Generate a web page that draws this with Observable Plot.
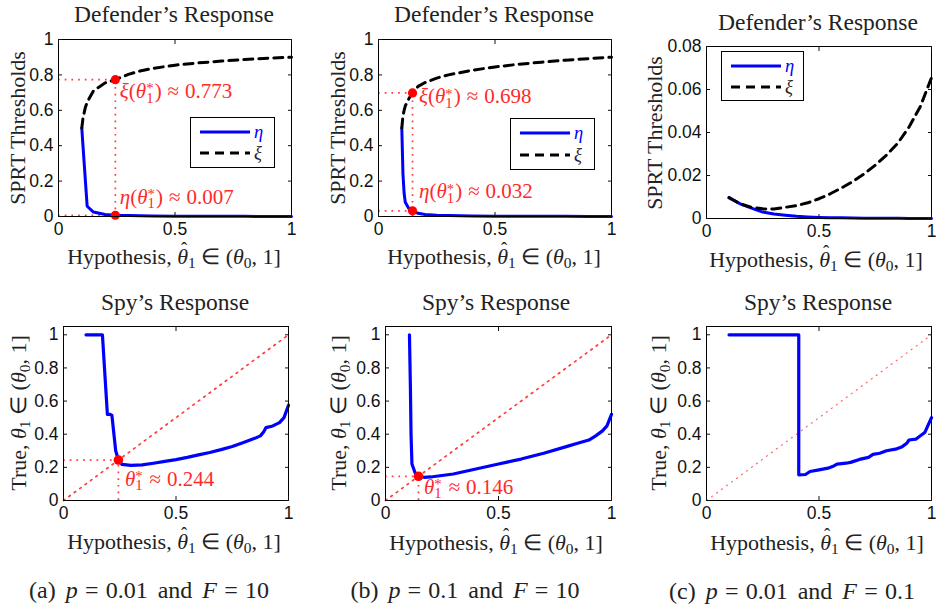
<!DOCTYPE html>
<html><head><meta charset="utf-8">
<script src="https://cdn.jsdelivr.net/npm/d3@7"></script>
<script src="https://cdn.jsdelivr.net/npm/@observablehq/plot@0.6"></script>
<style>
body{margin:0;background:#fff;}
#fig{position:relative;width:939px;height:604px;overflow:hidden;font-family:"Liberation Serif","Times New Roman",serif;color:#222;}
.abs{position:absolute;white-space:nowrap;line-height:1;}
.ctr{transform:translate(-50%,-50%);}
.rot{transform:translate(-50%,-50%) rotate(-90deg);}
.vc{transform:translateY(-50%);}
sub{font-size:0.7em;line-height:0;vertical-align:-0.25em;}
.ts{position:relative;display:inline-block;font-size:0.7em;line-height:1;vertical-align:-0.3em;}
.ts::after{content:"*";position:absolute;left:0;top:-0.62em;}
.ts1{margin-right:0.08em;}
.hatw{position:relative;display:inline-block;}
.hatw::after{content:"ˆ";position:absolute;left:0.2em;top:-0.3em;font-style:normal;font-size:0.85em;}
.title{font-size:23.5px;}
.lab{font-size:22px;}
.lab .op{margin:0 0.25em;}
.ann{font-size:21px;color:#ff2a2a;}
.ann .op{margin:0 0.28em;}
.cap{font-size:24px;word-spacing:4px;}
.cap .op{margin:0 0.3em;}
.leg{position:absolute;border:1.2px solid #000;background:#fff;box-sizing:border-box;}
.leg .row{position:absolute;left:9px;height:18px;display:flex;align-items:center;font-size:18.5px;line-height:18px;}
.leg svg{display:block;margin-right:4px;}
</style></head><body><div id="fig"></div>
<script>
// ---------- tick values ----------
const xTicks = [0, 0.5, 1];
const yTicksUnit = [0, 0.2, 0.4, 0.6, 0.8, 1];
const yTicksSmall = [0, 0.02, 0.04, 0.06, 0.08];

// ---------- Defender's response (top row) ----------
// (a) p = 0.01, F = 10
const hypA = [0.1, 0.105, 0.115, 0.123, 0.15, 0.2, 0.244, 0.3, 0.35, 0.4, 0.5, 0.6, 0.7, 0.8, 0.9, 1];
const etaA = [0.5, 0.4, 0.21, 0.058, 0.025, 0.011, 0.007, 0.005, 0.004, 0.003, 0.002, 0.0015, 0.001, 0.0008, 0.0005, 0.0003];
const xiA  = [0.5, 0.555, 0.615, 0.646, 0.71, 0.755, 0.773, 0.803, 0.822, 0.836, 0.855, 0.868, 0.878, 0.887, 0.894, 0.9];
// (b) p = 0.1, F = 10
const hypB = [0.1, 0.105, 0.11, 0.115, 0.13, 0.146, 0.17, 0.2, 0.25, 0.3, 0.4, 0.5, 0.6, 0.7, 0.8, 0.9, 1];
const etaB = [0.5, 0.24, 0.13, 0.08, 0.045, 0.032, 0.018, 0.011, 0.007, 0.005, 0.003, 0.002, 0.0015, 0.001, 0.0008, 0.0005, 0.0003];
const xiB  = [0.5, 0.57, 0.6, 0.625, 0.665, 0.698, 0.735, 0.757, 0.782, 0.8, 0.826, 0.845, 0.86, 0.872, 0.883, 0.892, 0.9];
// (c) p = 0.01, F = 0.1
const hypC = [0.1, 0.15, 0.2, 0.25, 0.3, 0.35, 0.4, 0.45, 0.5, 0.55, 0.6, 0.65, 0.7, 0.75, 0.8, 0.85, 0.9, 0.95, 1];
const etaC = [0.0097, 0.0068, 0.0048, 0.003, 0.0021, 0.0015, 0.001, 0.0007, 0.0005, 0.0004, 0.0003, 0.0002, 0.00015, 0.0001, 0.00008, 0.00006, 0.00004, 0.00003, 0.00002];
const xiC  = [0.0097, 0.0068, 0.0052, 0.0045, 0.0044, 0.0052, 0.006, 0.0073, 0.0092, 0.0115, 0.0142, 0.0172, 0.0207, 0.0248, 0.0295, 0.035, 0.0425, 0.052, 0.0655];

// optimal points for (a) and (b)
const thetaStar = [0.244, 0.146];
const xiStar    = [0.773, 0.698];
const etaStar   = [0.007, 0.032];

// ---------- Spy's response (bottom row) ----------
const spyHypA  = [0.1, 0.173, 0.195, 0.205, 0.215, 0.232, 0.244, 0.26, 0.3, 0.35, 0.4, 0.45, 0.5, 0.55, 0.6, 0.65, 0.7, 0.75, 0.8, 0.85, 0.875, 0.89, 0.9, 0.93, 0.96, 0.98, 1];
const spyTrueA = [1, 1, 0.52, 0.52, 0.515, 0.3, 0.244, 0.218, 0.212, 0.215, 0.225, 0.236, 0.247, 0.26, 0.275, 0.29, 0.307, 0.326, 0.35, 0.375, 0.39, 0.415, 0.44, 0.45, 0.47, 0.5, 0.575];
const spyHypB  = [0.106, 0.11, 0.113, 0.117, 0.13, 0.146, 0.17, 0.2, 0.3, 0.4, 0.5, 0.6, 0.7, 0.8, 0.85, 0.9, 0.93, 0.96, 0.98, 1];
const spyTrueB = [1, 0.7, 0.4, 0.22, 0.17, 0.146, 0.14, 0.142, 0.16, 0.19, 0.22, 0.25, 0.285, 0.325, 0.345, 0.365, 0.39, 0.42, 0.45, 0.52];
const spyHypC  = [0.1, 0.41, 0.41, 0.44, 0.46, 0.5, 0.54, 0.56, 0.58, 0.62, 0.64, 0.68, 0.72, 0.74, 0.77, 0.8, 0.84, 0.87, 0.89, 0.9, 0.93, 0.97, 1];
const spyTrueC = [1, 1, 0.155, 0.157, 0.175, 0.185, 0.195, 0.205, 0.22, 0.225, 0.23, 0.248, 0.26, 0.278, 0.285, 0.3, 0.31, 0.325, 0.345, 0.365, 0.37, 0.41, 0.5];
const diagLine = [0, 1];

// ---------- helpers ----------
const fig = document.getElementById("fig");
const BLUE = "#0000ff", RED = "#ff1a1a";
const redDotted = {stroke: RED, strokeWidth: 1.7, strokeDasharray: "1.7,5", strokeOpacity: 0.85};

function axes(yTicks) {
  const fmt = d => String(d);
  return [
    Plot.frame({stroke: "black", strokeWidth: 1}),
    Plot.axisX(xTicks, {anchor: "bottom", tickSize: -4, tickPadding: 10, tickFormat: fmt, label: null}),
    Plot.axisX(xTicks, {anchor: "top", tickSize: -4, tickFormat: () => "", label: null}),
    Plot.axisY(yTicks, {anchor: "left", tickSize: -4, tickPadding: 9, tickFormat: fmt, label: null}),
    Plot.axisY(yTicks, {anchor: "right", tickSize: -4, tickFormat: () => "", label: null})
  ];
}

function place(cfg) {
  const p = Plot.plot({
    width: cfg.w, height: cfg.h,
    marginLeft: cfg.ml, marginRight: cfg.mr, marginTop: cfg.mt, marginBottom: cfg.mb,
    x: {domain: [0, 1]},
    y: {domain: cfg.yDomain},
    style: {fontFamily: "'Liberation Sans', Arial, sans-serif", fontSize: "17.5px", color: "#111", background: "transparent", overflow: "visible"},
    marks: [...cfg.marks, ...axes(cfg.yTicks)]
  });
  const wrap = document.createElement("div");
  wrap.style.cssText = `position:absolute;left:${cfg.left}px;top:${cfg.top}px;`;
  wrap.appendChild(p);
  fig.appendChild(wrap);
  const sx = p.scale("x"), sy = p.scale("y");
  return {X: v => cfg.left + sx.apply(v), Y: v => cfg.top + sy.apply(v)};
}

function html(cls, x, y, content, extra = "") {
  const d = document.createElement("div");
  d.className = "abs " + cls;
  d.style.cssText = `left:${x}px;top:${y}px;${extra}`;
  d.innerHTML = content;
  fig.appendChild(d);
  return d;
}

const op = s => `<span class="op">${s}</span>`;
const th1 = '<i>θ</i><sub>1</sub>';
const thHat1 = '<span class="hatw"><i>θ</i></span><sub>1</sub>';
const th0 = '<i>θ</i><sub>0</sub>';
const thStar = '<i>θ</i><span class="ts ts1">1</span>';
const xLab = `Hypothesis, ${thHat1}${op("∈")}(${th0}, 1]`;
const yLabTop = "SPRT Thresholds";
const yLabBot = `True, ${th1}${op("∈")}(${th0}, 1]`;

function legend(left, top, w, h) {
  const d = document.createElement("div");
  d.className = "leg";
  d.style.cssText = `left:${left}px;top:${top}px;width:${w}px;height:${h}px;`;
  d.innerHTML =
    `<div class="row" style="top:${h*0.29 - 10}px"><svg width="50" height="6"><line x1="0" y1="3" x2="50" y2="3" stroke="${BLUE}" stroke-width="3"/></svg><i style="color:${BLUE}">η</i></div>` +
    `<div class="row" style="top:${h*0.71 - 10}px"><svg width="50" height="6"><line x1="0" y1="3" x2="50" y2="3" stroke="#000" stroke-width="3" stroke-dasharray="9,6"/></svg><i>ξ</i></div>`;
  fig.appendChild(d);
}

function defenderMarks(hyp, eta, xi, k) {
  const rows = hyp.map((h, i) => ({h, eta: eta[i], xi: xi[i]}));
  const m = [];
  if (k != null) {
    m.push(Plot.ruleY([xiStar[k]], {x1: 0, x2: thetaStar[k], ...redDotted}));
    m.push(Plot.ruleY([etaStar[k]], {x1: 0, x2: thetaStar[k], ...redDotted}));
    m.push(Plot.ruleX([thetaStar[k]], {y1: 0, y2: xiStar[k], ...redDotted}));
  }
  m.push(Plot.line(rows, {x: "h", y: "eta", stroke: BLUE, strokeWidth: 3}));
  m.push(Plot.line(rows, {x: "h", y: "xi", stroke: "black", strokeWidth: 3, strokeDasharray: "9,6"}));
  if (k != null) {
    m.push(Plot.dot([{h: thetaStar[k], v: xiStar[k]}, {h: thetaStar[k], v: etaStar[k]}], {x: "h", y: "v", r: 4.6, fill: "#ff0000"}));
  }
  return m;
}

function spyMarks(hyp, tru, k, faint) {
  const rows = hyp.map((h, i) => ({h, t: tru[i]}));
  const m = [];
  m.push(Plot.line(diagLine.map(v => ({h: v, t: v})), {x: "h", y: "t",
    ...(faint ? {stroke: "#ff4d4d", strokeWidth: 1.1, strokeDasharray: "1.2,5", strokeOpacity: 0.9} : redDotted)}));
  if (k != null) {
    m.push(Plot.ruleY([thetaStar[k]], {x1: 0, x2: thetaStar[k], ...redDotted}));
    m.push(Plot.ruleX([thetaStar[k]], {y1: 0, y2: thetaStar[k], ...redDotted}));
  }
  m.push(Plot.line(rows, {x: "h", y: "t", stroke: BLUE, strokeWidth: 3.2}));
  if (k != null) m.push(Plot.dot([{h: thetaStar[k], t: thetaStar[k]}], {x: "h", y: "t", r: 4.8, fill: "#ff0000"}));
  return m;
}

// ---------- top row ----------
const tA = place({left: 0, top: 30, w: 310, h: 212, ml: 58, mr: 19, mt: 9, mb: 26, yDomain: [0, 1], yTicks: yTicksUnit, marks: defenderMarks(hypA, etaA, xiA, 0)});
const tB = place({left: 320, top: 30, w: 310, h: 212, ml: 58, mr: 19, mt: 9, mb: 26, yDomain: [0, 1], yTicks: yTicksUnit, marks: defenderMarks(hypB, etaB, xiB, 1)});
const tC = place({left: 620, top: 30, w: 319, h: 212, ml: 86, mr: 8, mt: 16, mb: 24, yDomain: [0, 0.08], yTicks: yTicksSmall, marks: defenderMarks(hypC, etaC, xiC, null)});

// ---------- bottom row ----------
const bA = place({left: 0, top: 316, w: 310, h: 212, ml: 63, mr: 22, mt: 10, mb: 28, yDomain: [0, 1.05], yTicks: yTicksUnit, marks: spyMarks(spyHypA, spyTrueA, 0, false)});
const bB = place({left: 320, top: 316, w: 310, h: 212, ml: 65, mr: 19, mt: 10, mb: 28, yDomain: [0, 1.05], yTicks: yTicksUnit, marks: spyMarks(spyHypB, spyTrueB, 1, false)});
const bC = place({left: 620, top: 316, w: 319, h: 212, ml: 86, mr: 8, mt: 10, mb: 28, yDomain: [0, 1.05], yTicks: yTicksUnit, marks: spyMarks(spyHypC, spyTrueC, null, true)});

// ---------- titles ----------
html("title ctr", 174, 15, "Defender’s Response");
html("title ctr", 494, 15, "Defender’s Response");
html("title ctr", 818, 23, "Defender’s Response");
html("title ctr", 175, 303, "Spy’s Response");
html("title ctr", 496, 303, "Spy’s Response");
html("title ctr", 818, 303, "Spy’s Response");

// ---------- axis labels ----------
html("lab ctr", 174, 257, xLab);
html("lab ctr", 494, 257, xLab);
html("lab ctr", 816, 260, xLab);
html("lab ctr", 174, 542, xLab);
html("lab ctr", 496, 543, xLab);
html("lab ctr", 817, 543, xLab);
html("lab rot", 18, 128, yLabTop);
html("lab rot", 338, 128, yLabTop);
html("lab rot", 655, 133, yLabTop);
html("lab rot", 19, 413, yLabBot);
html("lab rot", 339, 413, yLabBot);
html("lab rot", 659, 413, yLabBot);

// ---------- legends ----------
legend(190, 117, 85, 51);
legend(510, 118, 85, 52);
legend(721, 51, 83, 50);

// ---------- annotations ----------
html("ann vc", tA.X(thetaStar[0]) + 5, tA.Y(xiStar[0]) + 14, `<i>ξ</i>(${thStar})${op("≈")}${xiStar[0]}`);
html("ann vc", tA.X(thetaStar[0]) + 5, tA.Y(etaStar[0]) - 16, `<i>η</i>(${thStar})${op("≈")}${etaStar[0].toFixed(3)}`);
html("ann vc", tB.X(thetaStar[1]) + 7, tB.Y(xiStar[1]) + 6, `<i>ξ</i>(${thStar})${op("≈")}${xiStar[1]}`);
html("ann vc", tB.X(thetaStar[1]) + 7, tB.Y(etaStar[1]) - 17, `<i>η</i>(${thStar})${op("≈")}${etaStar[1].toFixed(3)}`);
html("ann vc", bA.X(thetaStar[0]) + 7, bA.Y(thetaStar[0]) + 21, `${thStar}${op("≈")}${thetaStar[0]}`);
html("ann vc", bB.X(thetaStar[1]) + 6, bB.Y(thetaStar[1]) + 13, `${thStar}${op("≈")}${thetaStar[1]}`);

// ---------- captions ----------
html("cap ctr", 149, 590, `(a) <i>p</i>${op("=")}0.01 and <i>F</i>${op("=")}10`);
html("cap ctr", 465, 590, `(b) <i>p</i>${op("=")}0.1 and <i>F</i>${op("=")}10`);
html("cap ctr", 792, 591, `(c) <i>p</i>${op("=")}0.01 and <i>F</i>${op("=")}0.1`);
</script></body></html>
